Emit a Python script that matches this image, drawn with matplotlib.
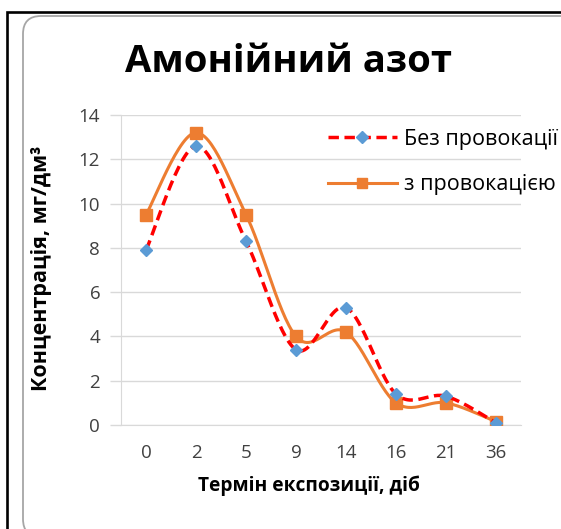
import matplotlib.pyplot as plt
from matplotlib.lines import Line2D
from matplotlib.patches import FancyBboxPatch, Rectangle
from matplotlib.transforms import IdentityTransform
import numpy as np

# --- DATA ---
terms = ['0', '2', '5', '9', '14', '16', '21', '36']
without_prov = [7.9, 12.6, 8.3, 3.4, 5.3, 1.4, 1.3, 0.1]
with_prov = [9.5, 13.2, 9.5, 4.0, 4.2, 1.0, 1.0, 0.15]
y_ticks = [0, 2, 4, 6, 8, 10, 12, 14]

RED = '#FF0000'
BLUE = '#5B9BD5'
ORANGE = '#ED7D31'
GRID = '#D9D9D9'
FONT = 'Open Sans'
DASH = (0, (3, 1.6))


def smooth(xs, ys, steps=30):
    # сглаживание как у Excel (кривые Безье по Catmull-Rom)
    xs = np.asarray(xs, float)
    ys = np.asarray(ys, float)
    px = np.concatenate([[xs[0]], xs, [xs[-1]]])
    py = np.concatenate([[ys[0]], ys, [ys[-1]]])
    out_x, out_y = [], []
    t = np.linspace(0, 1, steps)
    for i in range(1, len(px) - 2):
        p0, p1, p2, p3 = (np.array([px[j], py[j]]) for j in range(i - 1, i + 3))
        c1 = p1 + (p2 - p0) / 6
        c2 = p2 - (p3 - p1) / 6
        b = ((1 - t) ** 3)[:, None] * p1 + (3 * (1 - t) ** 2 * t)[:, None] * c1 \
            + (3 * (1 - t) * t ** 2)[:, None] * c2 + (t ** 3)[:, None] * p2
        out_x.extend(b[:, 0])
        out_y.extend(b[:, 1])
    return np.array(out_x), np.array(out_y)


W, H = 561, 529
fig = plt.figure(figsize=(W / 100, H / 100), dpi=100)

# рамки (в пикселях)
fig.patches.append(Rectangle((7, -20), 700, H - 12 + 20, transform=IdentityTransform(),
                             fill=False, edgecolor='black', linewidth=1.9))
fig.patches.append(FancyBboxPatch((23, -8), 700, H - 16 + 8,
                                  boxstyle='round,pad=0,rounding_size=18',
                                  transform=IdentityTransform(), fill=False,
                                  edgecolor='#A6A6A6', linewidth=1.3))

ax = fig.add_axes([121 / W, (H - 425) / H, 400 / W, 310 / H])
x = np.arange(len(terms))

sx, sy = smooth(x, with_prov)
ax.plot(sx, sy, color=ORANGE, linewidth=2.2, zorder=3)
ax.plot(x, with_prov, 's', color=ORANGE, markersize=8, zorder=4)

sx, sy = smooth(x, without_prov)
ax.plot(sx, sy, color=RED, linewidth=2.5, linestyle=DASH, zorder=5)
ax.plot(x, without_prov, 'D', color=BLUE, markersize=6.5, zorder=6)

ax.set_xlim(-0.5, len(terms) - 0.5)
ax.set_ylim(0, 14)
ax.set_xticks(x)
ax.set_xticklabels(terms)
ax.set_yticks(y_ticks)
ax.tick_params(labelsize=13.5, colors='#404040')
ax.tick_params(axis='x', length=0, pad=14)
ax.tick_params(axis='y', length=8, color=GRID, width=1, pad=7)
for lbl in ax.get_xticklabels() + ax.get_yticklabels():
    lbl.set_family(FONT)
ax.grid(axis='y', color=GRID, linewidth=1)
ax.set_axisbelow(True)
for s in ['top', 'right']:
    ax.spines[s].set_visible(False)
ax.spines['bottom'].set_color(GRID)
ax.spines['left'].set_color(GRID)

fig.text(288 / W, (H - 62) / H, 'Амонійний азот', ha='center', va='center',
         fontsize=27.5, fontweight='bold', family=FONT)
fig.text(42 / W, (H - 268) / H, 'Концентрація, мг/дм³', ha='center', va='center',
         rotation=90, fontsize=15.5, fontweight='bold', family=FONT)
fig.text(309 / W, (H - 486) / H, 'Термін експозиції, діб', ha='center', va='center',
         fontsize=13.8, fontweight='bold', family=FONT)

handles = [
    Line2D([], [], color=RED, linewidth=2.5, linestyle=DASH, marker='D',
           markerfacecolor=BLUE, markeredgecolor=BLUE, markersize=6),
    Line2D([], [], color=ORANGE, linewidth=2.2, marker='s', markersize=7),
]
fig.legend(handles, ['Без провокації', 'з провокацією'], loc='upper left',
           bbox_to_anchor=(328 / W, (H - 129) / H), frameon=False, handlelength=3.2,
           labelspacing=1.13, prop={'family': FONT, 'size': 15.5}, handletextpad=0.33,
           numpoints=1, borderpad=0, borderaxespad=0)

fig.savefig('out.png', dpi=100)
